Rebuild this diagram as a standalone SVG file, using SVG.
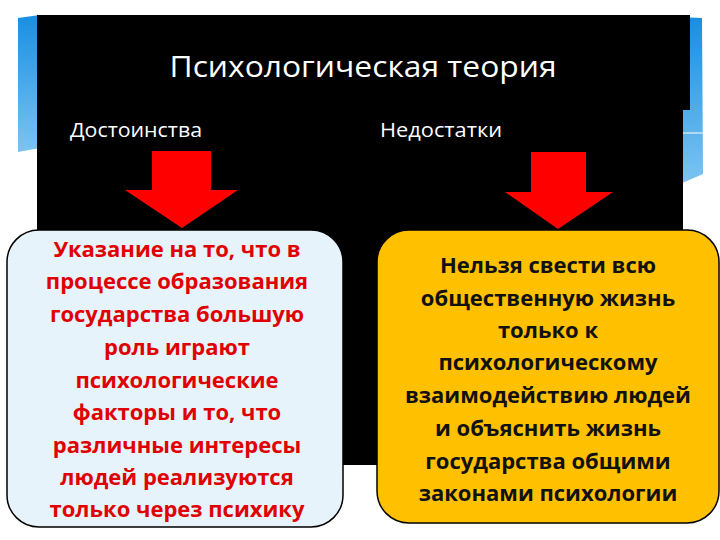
<svg xmlns="http://www.w3.org/2000/svg" width="720" height="540" viewBox="0 0 720 540">
<defs>
<linearGradient id="gb" x1="0" y1="0" x2="0" y2="1">
<stop offset="0" stop-color="#1a8ee0"/>
<stop offset="1" stop-color="#7cc4f2"/>
</linearGradient>
<style>
.hdr{font-family:"Open Sans","Noto Sans","Liberation Sans",sans-serif;fill:#ffffff}
.lt{font-family:"Open Sans","Noto Sans","Liberation Sans",sans-serif;font-weight:bold;font-size:22px;fill:#e00000;text-anchor:middle}
.rt{font-family:"Open Sans","Noto Sans","Liberation Sans",sans-serif;font-weight:bold;font-size:22px;fill:#111111;text-anchor:middle}
.arrow{fill:#ff0000}
.box{stroke:#000000;stroke-width:1.5}
</style>
</defs>
<rect width="720" height="540" fill="#ffffff"/>
<g id="background">
<polygon points="18,18 40,15 40,148 18,152" fill="url(#gb)"/>
<polygon points="680,17 702,18 703,174 680,184" fill="url(#gb)"/>
<line x1="683" y1="133" x2="703" y2="133" stroke="#ffffff" stroke-width="1"/>
<rect x="37" y="15" width="653" height="95" fill="#000000"/>
<rect x="37" y="100" width="646" height="365" fill="#000000"/>
</g>
<g id="title">
<text class="hdr" x="363" y="77" font-size="30" text-anchor="middle" textLength="387" lengthAdjust="spacingAndGlyphs">Психологическая теория</text>
</g>
<g id="header-left">
<text class="hdr" x="70" y="137" font-size="20" textLength="132" lengthAdjust="spacingAndGlyphs">Достоинства</text>
</g>
<g id="header-right">
<text class="hdr" x="380" y="137" font-size="20" textLength="122" lengthAdjust="spacingAndGlyphs">Недостатки</text>
</g>
<g id="connectors">
<polygon class="arrow" points="152,151 211,151 211,190 238,190 182,228 125,190 152,190"/>
<polygon class="arrow" points="531,152 586,152 586,192 613,192 558,229 505,192 531,192"/>
</g>
<g id="box-left">
<rect class="box" x="7" y="230" width="336" height="297" rx="32" fill="#e6f3fb"/>
<text class="lt" x="177" y="257">Указание на то, что в</text>
<text class="lt" x="177" y="289">процессе образования</text>
<text class="lt" x="177" y="322">государства большую</text>
<text class="lt" x="177" y="355">роль играют</text>
<text class="lt" x="177" y="388">психологические</text>
<text class="lt" x="177" y="420">факторы и то, что</text>
<text class="lt" x="177" y="453">различные интересы</text>
<text class="lt" x="177" y="485">людей реализуются</text>
<text class="lt" x="177" y="517">только через психику</text>
</g>
<g id="box-right">
<rect class="box" x="377" y="230" width="342" height="293" rx="32" fill="#ffc000"/>
<text class="rt" x="548" y="273">Нельзя свести всю</text>
<text class="rt" x="548" y="306">общественную жизнь</text>
<text class="rt" x="548" y="338">только к</text>
<text class="rt" x="548" y="370">психологическому</text>
<text class="rt" x="548" y="403">взаимодействию людей</text>
<text class="rt" x="548" y="436">и объяснить жизнь</text>
<text class="rt" x="548" y="469">государства общими</text>
<text class="rt" x="548" y="501">законами психологии</text>
</g>
</svg>
